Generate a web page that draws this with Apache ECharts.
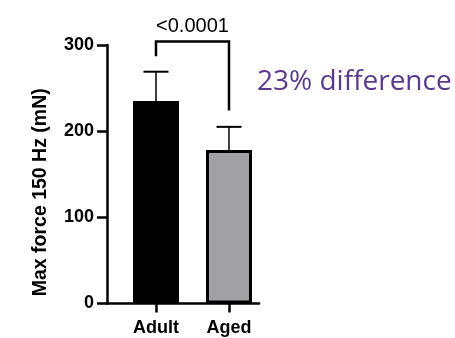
<!DOCTYPE html>
<html><head><meta charset="utf-8">
<script src="https://cdn.jsdelivr.net/npm/echarts@6/dist/echarts.min.js"></script>
<style>html,body{margin:0;padding:0;background:#fff}#c{width:455px;height:338px}</style>
</head><body><div id="c"></div>
<script>
const categories = ['Adult', 'Aged'];
const means = [235, 178];
const errors = [34, 27];
const barColors = ['#000000', '#A1A0A5'];
const yTicks = [0, 100, 200, 300];
const bracket = { left: 287, top: 304, right: 224, label: '<0.0001' };
const annotation = '23% difference';

const chart = echarts.init(document.getElementById('c'), null, { renderer: 'canvas' });
const pos = categories.map((_, i) => i);

chart.setOption({
  animation: false,
  grid: { left: 107, right: 196, top: 45, bottom: 34.5, containLabel: false },
  xAxis: {
    type: 'value', min: -0.671, max: 1.411,
    splitLine: { show: false },
    axisLine: { show: true, onZero: false, lineStyle: { color: '#000', width: 2.5 } },
    axisTick: { show: true, customValues: pos, length: 9, lineStyle: { color: '#000', width: 2.5 } },
    axisLabel: { show: true, customValues: pos, formatter: v => categories[Math.round(v)] || '',
      color: '#000', fontFamily: 'Liberation Sans, Arial', fontWeight: 'bold', fontSize: 18, margin: 16 }
  },
  yAxis: {
    type: 'value', min: 0, max: 300, interval: 100,
    name: 'Max force 150 Hz (mN)', nameLocation: 'middle', nameGap: 56,
    nameTextStyle: { color: '#000', fontFamily: 'Liberation Sans, Arial', fontWeight: 'bold', fontSize: 19.5, padding: [0, 36, 0, 0] },
    splitLine: { show: false },
    axisLine: { show: true, onZero: false, lineStyle: { color: '#000', width: 2.5 } },
    axisTick: { show: true, length: 10, lineStyle: { color: '#000', width: 2.5 } },
    axisLabel: { color: '#000', fontFamily: 'Liberation Sans, Arial', fontWeight: 'bold', fontSize: 18, margin: 13,
      formatter: v => yTicks.includes(v) ? String(v) : '' }
  },
  series: [
    {
      type: 'bar', barWidth: 46,
      data: means.map((m, i) => ({ value: [pos[i], m], itemStyle: { color: barColors[i], borderColor: '#000', borderWidth: 3 } })),
      z: 2
    },
    {
      type: 'custom', clip: false, z: 3,
      data: means.map((m, i) => [pos[i], m, m + errors[i]]),
      renderItem: (params, api) => {
        const x = api.value(0);
        const p0 = api.coord([x, api.value(1)]);
        const p1 = api.coord([x, api.value(2)]);
        return { type: 'group', children: [
          { type: 'line', shape: { x1: p0[0], y1: p0[1], x2: p1[0], y2: p1[1] }, style: { stroke: '#000', lineWidth: 1.5 } },
          { type: 'line', shape: { x1: p1[0] - 12.5, y1: p1[1], x2: p1[0] + 12.5, y2: p1[1] }, style: { stroke: '#000', lineWidth: 2 } }
        ] };
      }
    },
    {
      type: 'custom', clip: false, z: 4,
      data: [[0]],
      renderItem: (params, api) => {
        const a = api.coord([pos[0], bracket.left]);
        const b = api.coord([pos[0], bracket.top]);
        const c = api.coord([pos[1], bracket.top]);
        const d = api.coord([pos[1], bracket.right]);
        return { type: 'group', children: [
          { type: 'polyline', shape: { points: [a, b, c, d] }, style: { stroke: '#000', lineWidth: 2.5, fill: null } },
          { type: 'text', style: { x: (b[0] + c[0]) / 2, y: b[1] - 5, text: bracket.label, textAlign: 'center', textVerticalAlign: 'bottom',
              fill: '#000', font: '20px "Liberation Sans", Arial' } }
        ] };
      }
    }
  ],
  graphic: [
    { type: 'text', left: 257, top: 68, style: { text: annotation, fill: '#5B3A8E', font: '28px "Open Sans"' } }
  ]
});
</script></body></html>
